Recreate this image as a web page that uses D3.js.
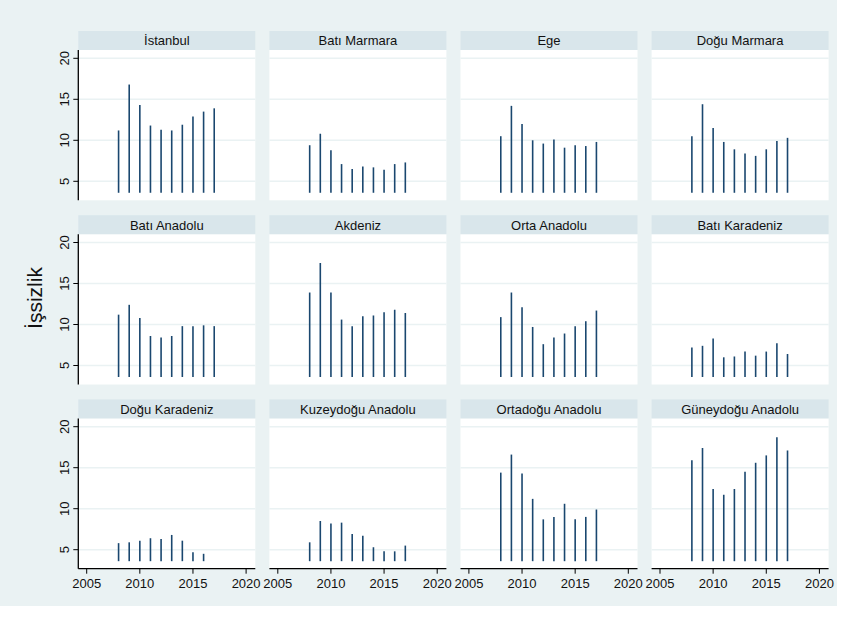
<!DOCTYPE html>
<html>
<head>
<meta charset="utf-8">
<script src="https://cdn.jsdelivr.net/npm/d3@7"></script>
<style>
  html, body { margin: 0; padding: 0; background: #ffffff; }
  svg { display: block; }
</style>
</head>
<body>
<div id="chart"></div>
<script>
// ---- data ----
const years = [2008, 2009, 2010, 2011, 2012, 2013, 2014, 2015, 2016, 2017];
const regionNames = ["İstanbul", "Batı Marmara", "Ege", "Doğu Marmara",
  "Batı Anadolu", "Akdeniz", "Orta Anadolu", "Batı Karadeniz",
  "Doğu Karadeniz", "Kuzeydoğu Anadolu", "Ortadoğu Anadolu", "Güneydoğu Anadolu"];
const istanbul        = [11.2, 16.8, 14.3, 11.8, 11.3, 11.2, 11.9, 12.9, 13.5, 13.9];
const batiMarmara     = [9.4, 10.8, 8.8, 7.1, 6.5, 6.8, 6.7, 6.4, 7.1, 7.3];
const ege             = [10.5, 14.2, 12.0, 10.0, 9.6, 10.1, 9.1, 9.4, 9.3, 9.8];
const doguMarmara     = [10.5, 14.4, 11.5, 9.8, 8.9, 8.4, 8.1, 8.9, 9.9, 10.3];
const batiAnadolu     = [11.2, 12.4, 10.8, 8.6, 8.4, 8.6, 9.8, 9.8, 9.9, 9.8];
const akdeniz         = [13.9, 17.5, 13.9, 10.6, 9.8, 11.0, 11.1, 11.5, 11.8, 11.4];
const ortaAnadolu     = [10.9, 13.9, 12.1, 9.7, 7.6, 8.4, 8.9, 9.8, 10.4, 11.7];
const batiKaradeniz   = [7.2, 7.4, 8.3, 6.0, 6.1, 6.7, 6.2, 6.7, 7.7, 6.4];
const doguKaradeniz   = [5.8, 5.9, 6.1, 6.4, 6.3, 6.8, 6.1, 4.7, 4.5, null];
const kuzeydoguAnadolu= [5.9, 8.5, 8.2, 8.3, 6.9, 6.7, 5.3, 4.8, 4.8, 5.5];
const ortadoguAnadolu = [14.4, 16.6, 14.3, 11.2, 8.7, 9.0, 10.6, 8.7, 9.0, 9.9];
const guneydoguAnadolu= [15.9, 17.4, 12.4, 11.7, 12.4, 14.5, 15.6, 16.5, 18.7, 17.1];
const seriesList = [istanbul, batiMarmara, ege, doguMarmara, batiAnadolu, akdeniz,
  ortaAnadolu, batiKaradeniz, doguKaradeniz, kuzeydoguAnadolu, ortadoguAnadolu, guneydoguAnadolu];
const yTicks = [5, 10, 15, 20];
const xTicks = [2005, 2010, 2015, 2020];
const spikeBase = 3.6;
const yTitle = "İşsizlik";

// ---- layout ----
const W = 849, H = 621;
const font = "'Liberation Sans', Arial, Helvetica, sans-serif";
const colLeft0 = 78.3, colPitch = 191.1, panelW = 177;
const row20_0 = 58.3, rowPitch = 184.2;
const pxPerUnit = 8.2;

const svg = d3.select("#chart").append("svg")
  .attr("width", W).attr("height", H);

svg.append("rect").attr("x", 0).attr("y", 0).attr("width", 837).attr("height", 606)
  .attr("fill", "#eaf2f3");

regionNames.forEach((name, i) => {
  const col = i % 4, row = Math.floor(i / 4);
  const left = colLeft0 + col * colPitch;
  const g20 = row20_0 + row * rowPitch;
  const headerTop = g20 - 27.3, headerH = 19;
  const plotTop = headerTop + headerH, plotBottom = g20 + 142;

  const x = d3.scaleLinear().domain([2005, 2020]).range([left + 8.4, left + 8.4 + 159.4]);
  const y = d3.scaleLinear().domain([20, 5]).range([g20, g20 + 15 * pxPerUnit]);

  const g = svg.append("g");
  g.append("rect").attr("x", left).attr("y", plotTop)
    .attr("width", panelW).attr("height", plotBottom - plotTop).attr("fill", "#ffffff");
  g.append("rect").attr("x", left).attr("y", headerTop)
    .attr("width", panelW).attr("height", headerH).attr("fill", "#d9e6eb");
  g.append("text").attr("x", left + panelW / 2).attr("y", headerTop + 14.3)
    .attr("text-anchor", "middle").attr("font-family", font).attr("font-size", 13)
    .attr("fill", "#111").text(name);

  g.selectAll("line.grid").data(yTicks).join("line").attr("class", "grid")
    .attr("x1", left).attr("x2", left + panelW)
    .attr("y1", d => y(d)).attr("y2", d => y(d))
    .attr("stroke", "#eaf2f3").attr("stroke-width", 1.6);

  const data = years.map((yr, k) => ({ yr, v: seriesList[i][k] })).filter(d => d.v != null);
  g.selectAll("line.spike").data(data).join("line").attr("class", "spike")
    .attr("x1", d => x(d.yr)).attr("x2", d => x(d.yr))
    .attr("y1", y(spikeBase)).attr("y2", d => y(d.v))
    .attr("stroke", "#1a476f").attr("stroke-width", 1.6);

  if (col === 0) {
    g.append("line").attr("x1", left).attr("x2", left)
      .attr("y1", plotTop).attr("y2", plotBottom)
      .attr("stroke", "#000").attr("stroke-width", 1.3);
    yTicks.forEach(t => {
      g.append("line").attr("x1", left - 5).attr("x2", left)
        .attr("y1", y(t)).attr("y2", y(t)).attr("stroke", "#000").attr("stroke-width", 1);
      g.append("text").attr("transform", `translate(${left - 9},${y(t)}) rotate(-90)`)
        .attr("text-anchor", "middle").attr("font-family", font).attr("font-size", 13)
        .attr("fill", "#111").text(t);
    });
  }
  if (row === 2) {
    g.append("line").attr("x1", left).attr("x2", left + panelW)
      .attr("y1", plotBottom).attr("y2", plotBottom)
      .attr("stroke", "#000").attr("stroke-width", 1.3);
    xTicks.forEach(t => {
      g.append("line").attr("x1", x(t)).attr("x2", x(t))
        .attr("y1", plotBottom).attr("y2", plotBottom + 5).attr("stroke", "#000").attr("stroke-width", 1);
      g.append("text").attr("x", x(t)).attr("y", plotBottom + 19)
        .attr("text-anchor", "middle").attr("font-family", font).attr("font-size", 13)
        .attr("fill", "#111").text(t);
    });
  }
});

svg.append("text").attr("transform", "translate(42,298) rotate(-90)")
  .attr("text-anchor", "middle").attr("font-family", font).attr("font-size", 21)
  .attr("fill", "#111").text(yTitle);
</script>
</body>
</html>
